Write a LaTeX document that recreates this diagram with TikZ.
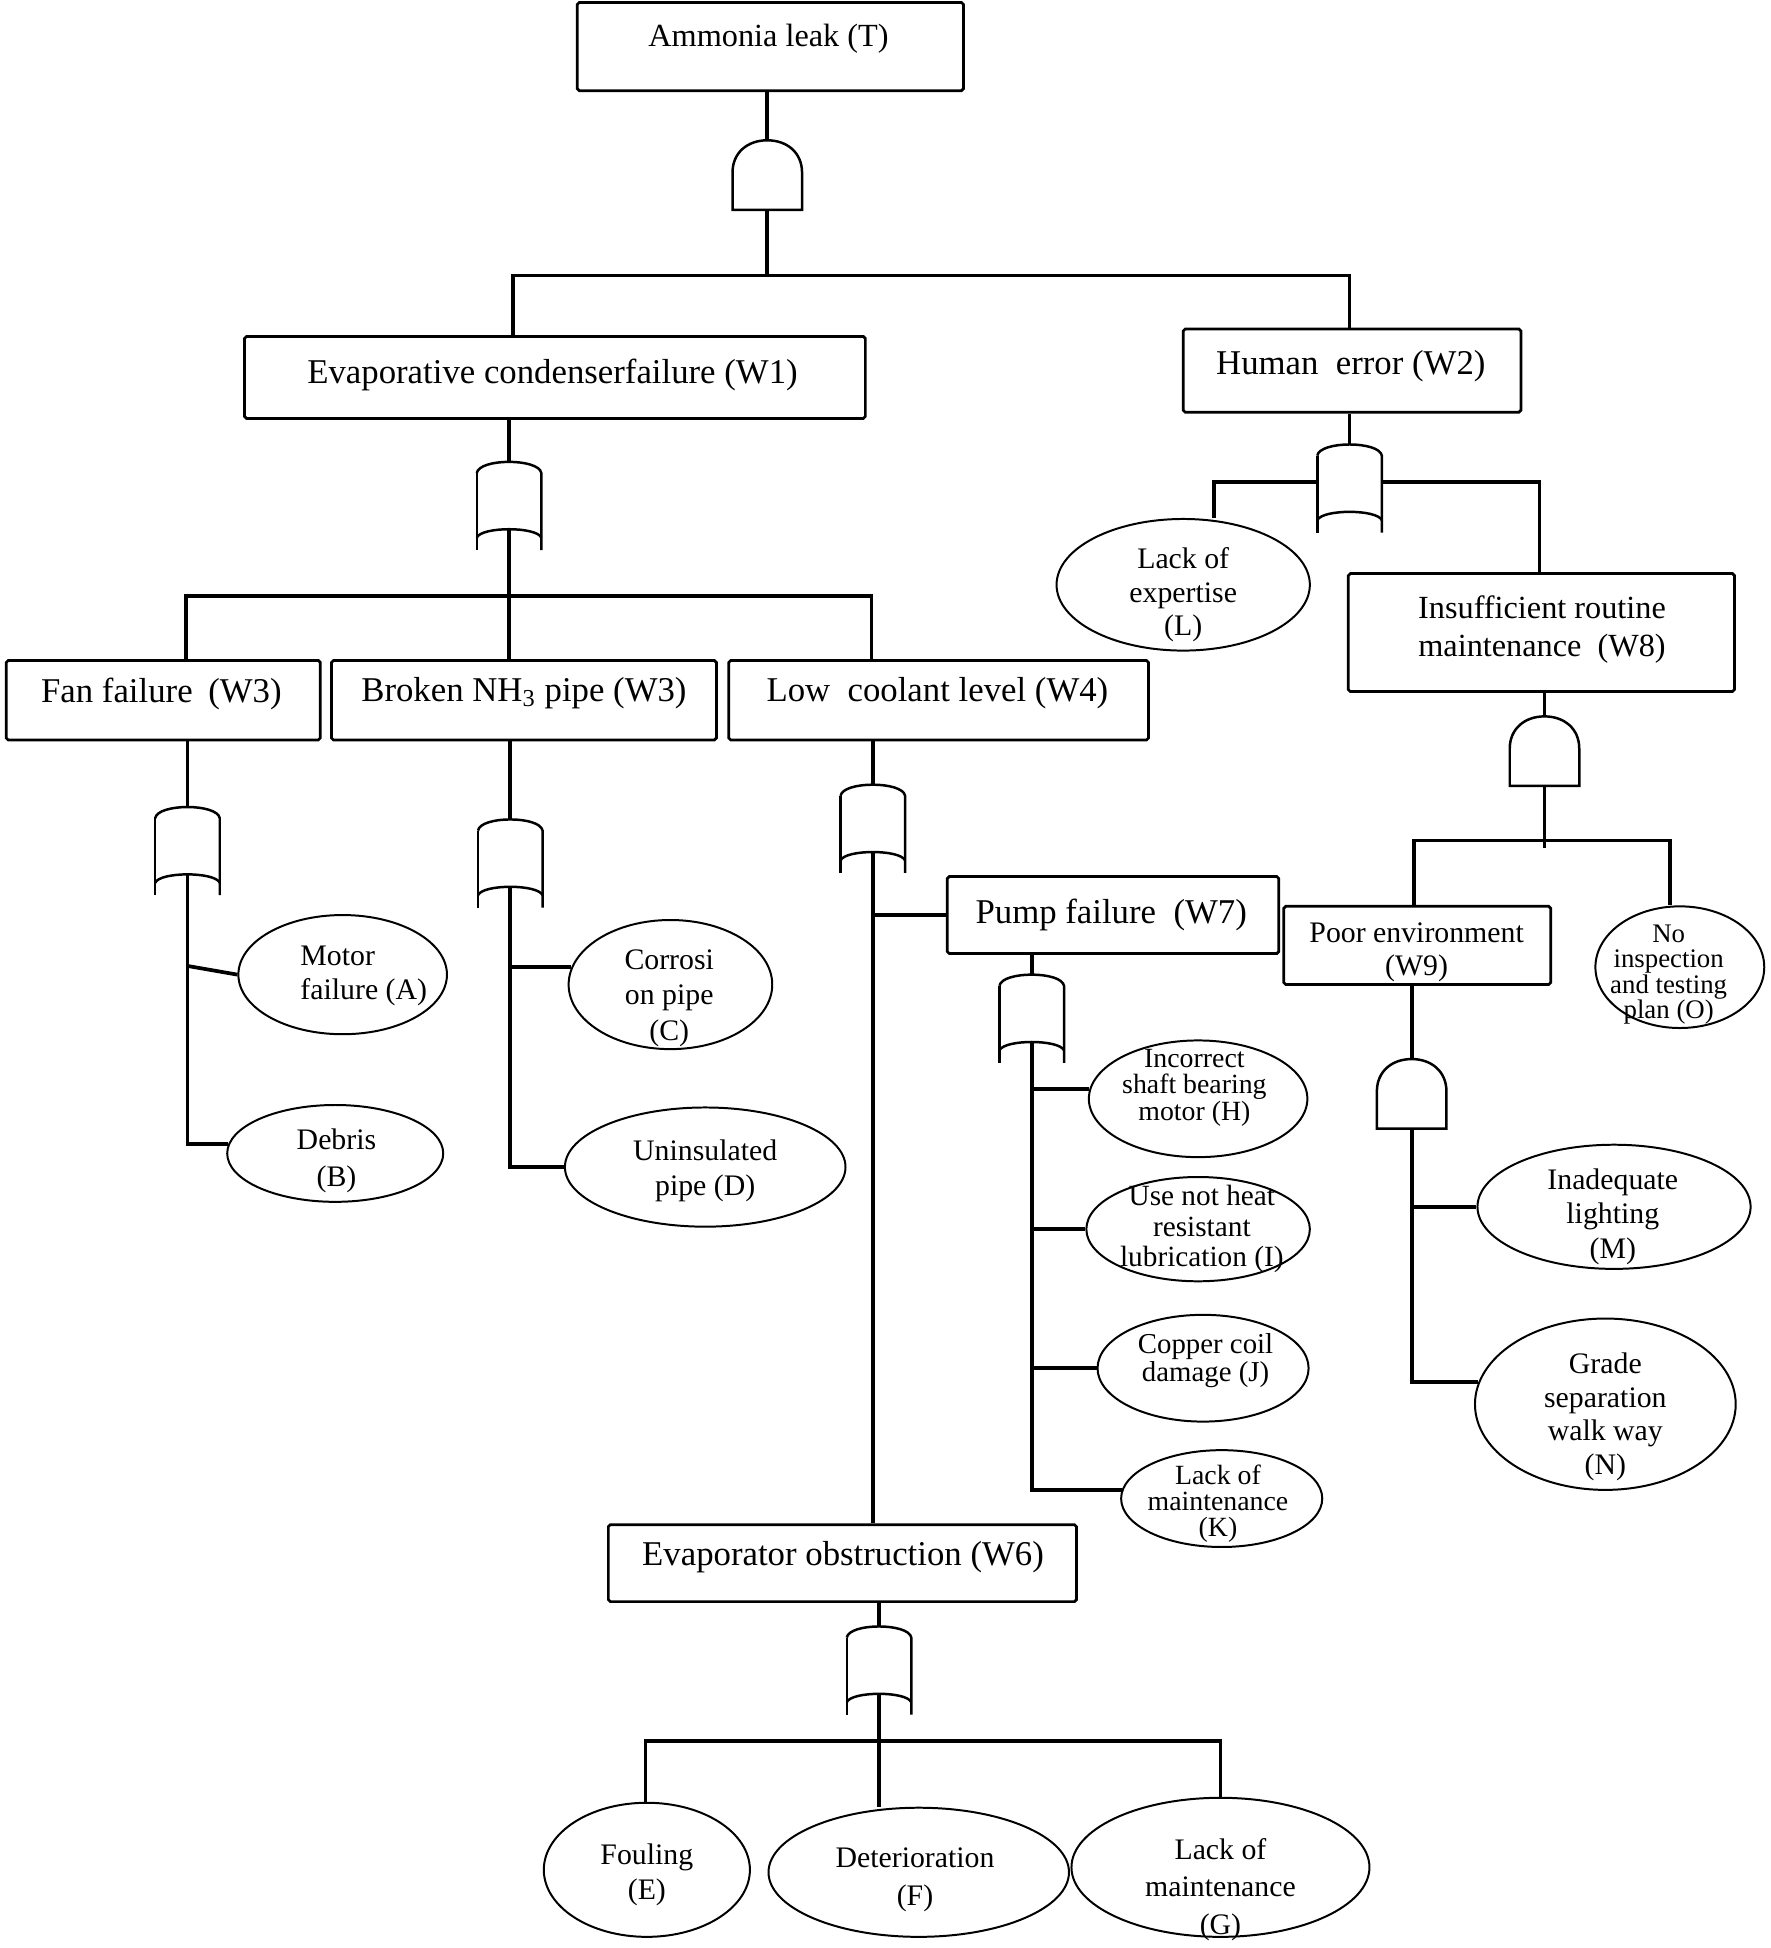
\documentclass[tikz,border=0pt]{standalone}
\usepackage{fontspec}
\setmainfont{Liberation Serif}
\usetikzlibrary{shapes.geometric}
\tikzset{
  orgate/.pic={
    \draw[gateline] (-26,9) .. controls (-24,-3) and (24,-3) .. (26,9) -- (26,71);
    \draw[gateline] (-26,9) -- (-26,71);
    \draw[gateline] (-26,61) .. controls (-22,52) and (22,52) .. (26,61);
  },
  andgate/.pic={
    \draw[gateline] (-28,56) -- (-28,26) .. controls (-28,10) and (-16,0) .. (0,0)
      .. controls (16,0) and (28,10) .. (28,26) -- (28,56) -- cycle;
  },
}
\begin{document}
\begin{tikzpicture}[x=0.5pt,y=-0.5pt,
  box/.style={draw, line width=1.1pt, rounded corners=0.8pt, inner sep=0pt},
  ev/.style={draw, ellipse, line width=0.8pt, inner sep=0pt},
  bt/.style={inner sep=0pt, align=center, font=\fontsize{14}{16}\selectfont},
  et/.style={inner sep=0pt, align=center},
  conn/.style={line width=1.5pt},
  gateline/.style={line width=1pt}]
\fill[white] (0,0) rectangle (1426,1569);
\useasboundingbox (0,0) rectangle (1426,1569);

% ---- boxes ----
\node[box, minimum width=155.5pt, minimum height=35.5pt] (T) at (620.5,37.5) {};
\node[box, minimum width=250pt, minimum height=33pt] (W1) at (447,304) {};
\node[box, minimum width=136pt, minimum height=33.5pt] (W2) at (1089,298.5) {};
\node[box, minimum width=126.5pt, minimum height=32pt] (Fan) at (131.5,564) {};
\node[box, minimum width=155pt, minimum height=32pt] (Broken) at (422,564) {};
\node[box, minimum width=169pt, minimum height=32pt] (Low) at (756,564) {};
\node[box, minimum width=133.5pt, minimum height=31pt] (Pump) at (896.5,737) {};
\node[box, minimum width=188.5pt, minimum height=31pt] (W6) at (678.5,1259) {};
\node[box, minimum width=155.5pt, minimum height=47.5pt] (W8) at (1241.5,509.5) {};
\node[box, minimum width=107.5pt, minimum height=31.5pt] (W9) at (1141.5,761.5) {};

% ---- box texts ----
\node[bt, font=\fontsize{13}{15}\selectfont] (Tt) at (619,31) {Ammonia leak (T)};
\node[bt] (W1t) at (445,302) {Evaporative condenserfailure (W1)};
\node[bt] (W2t) at (1088,295) {Human\hspace{0.5em}error (W2)};
\node[bt] (Fant) at (130,559) {Fan failure\hspace{0.45em}(W3)};
\node[bt] (Brokent) at (422,558) {Broken NH\textsubscript{3} pipe (W3)};
\node[bt] (Lowt) at (755,558) {Low\hspace{0.5em}coolant level (W4)};
\node[bt] (Pumpt) at (895,737) {Pump failure\hspace{0.5em}(W7)};
\node[bt] (W6t) at (679,1254) {Evaporator obstruction (W6)};
\node[bt, font=\fontsize{13}{15.5}\selectfont] (W8t) at (1242,507) {Insufficient routine\\maintenance\hspace{0.5em}(W8)};
\node[bt, font=\fontsize{12}{13}\selectfont] (W9t) at (1141,767) {Poor environment\\(W9)};

% ---- ellipses ----
\node[ev, minimum width=84pt, minimum height=48pt] (A) at (276,785) {};
\node[ev, minimum width=87pt, minimum height=39pt] (B) at (270,929) {};
\node[ev, minimum width=82pt, minimum height=52pt] (C) at (540,793) {};
\node[ev, minimum width=113pt, minimum height=48pt] (D) at (568,940) {};
\node[ev, minimum width=88pt, minimum height=47pt] (H) at (965,885) {};
\node[ev, minimum width=90pt, minimum height=42pt] (I) at (965,990) {};
\node[ev, minimum width=85pt, minimum height=43pt] (J) at (969,1102) {};
\node[ev, minimum width=81pt, minimum height=39pt] (K) at (984,1207) {};
\node[ev, minimum width=102pt, minimum height=53pt] (L) at (953,471) {};
\node[ev, minimum width=110pt, minimum height=50pt] (M) at (1300,972) {};
\node[ev, minimum width=105pt, minimum height=69pt] (N) at (1293,1131) {};
\node[ev, minimum width=68pt, minimum height=49pt] (O) at (1353,779) {};
\node[ev, minimum width=83pt, minimum height=54pt] (E) at (521,1506) {};
\node[ev, minimum width=121pt, minimum height=52pt] (F) at (740,1508) {};
\node[ev, minimum width=120pt, minimum height=56pt] (G) at (983,1504) {};

% ---- ellipse texts ----
\node[et, align=left, font=\fontsize{12}{14}\selectfont] (At) at (293,786) {Motor\\failure (A)};
\node[et, font=\fontsize{12}{15}\selectfont] (Bt) at (271,935) {Debris\\(B)};
\node[et, font=\fontsize{12}{14.3}\selectfont] (Ct) at (539,804) {Corrosi\\on pipe\\(C)};
\node[et, font=\fontsize{12}{14}\selectfont] (Dt) at (568,943) {Uninsulated\\pipe (D)};
\node[et, font=\fontsize{11.2}{10.6}\selectfont] (Ht) at (962,876) {Incorrect\\shaft bearing\\motor (H)};
\node[et, font=\fontsize{11.8}{12.2}\selectfont] (It) at (968,990) {Use not heat\\resistant\\lubrication (I)};
\node[et, font=\fontsize{11.6}{11.2}\selectfont] (Jt) at (971,1096) {Copper coil\\damage (J)};
\node[et, font=\fontsize{11.2}{10.6}\selectfont] (Kt) at (981,1211) {Lack of\\maintenance\\(K)};
\node[et, font=\fontsize{12}{13.5}\selectfont] (Lt) at (953,479) {Lack of\\expertise\\(L)};
\node[et, font=\fontsize{12}{14}\selectfont] (Mt) at (1299,980) {Inadequate\\lighting\\(M)};
\node[et, font=\fontsize{12}{13.5}\selectfont] (Nt) at (1293,1141) {Grade\\separation\\walk way\\(N)};
\node[et, font=\fontsize{10.8}{10.2}\selectfont] (Ot) at (1344,785) {No\\inspection\\and testing\\plan (O)};
\node[et, font=\fontsize{12}{14}\selectfont] (Et) at (521,1510) {Fouling\\(E)};
\node[et, font=\fontsize{12}{15}\selectfont] (Ft) at (737,1514) {Deterioration\\(F)};
\node[et, font=\fontsize{12}{15}\selectfont] (Gt) at (983,1522) {Lack of\\maintenance\\(G)};

% ---- top AND gate ----
\coordinate (g0t) at (618,113); \coordinate (g0b) at (618,169);
\pic at (g0t) {andgate};
\draw[conn] (T.south -| g0t) -- (g0t);
\coordinate (j0) at (618,222); \coordinate (j0l) at (413,222); \coordinate (j0r) at (1087,222);
\draw[conn] (g0b) -- (j0);
\draw[conn] (W1.north -| j0l) -- (j0l) -- (j0r) -- (W2.north -| j0r);

% ---- W1 OR gate ----
\coordinate (g1t) at (410,372); \coordinate (g1p) at (410,426);
\pic at (g1t) {orgate};
\draw[conn] (W1.south -| g1t) -- (g1t);
\coordinate (j1) at (410,480); \coordinate (j1l) at (150,480); \coordinate (j1r) at (702,480);
\draw[conn] (g1p) -- (j1);
\draw[conn] (Fan.north -| j1l) -- (j1l) -- (j1r) -- (Low.north -| j1r);
\draw[conn] (j1) -- (Broken.north -| j1);

% ---- Fan OR gate ----
\coordinate (g2t) at (151,650); \coordinate (g2p) at (151,704);
\pic at (g2t) {orgate};
\draw[conn] (Fan.south -| g2t) -- (g2t);
\draw[conn] (g2p) -- (g2p |- B.175) -- (B.175);
\coordinate (a1) at (151,778);
\draw[conn] (a1) -- (A.west);

% ---- Broken OR gate ----
\coordinate (g3t) at (411,660); \coordinate (g3p) at (411,714);
\pic at (g3t) {orgate};
\draw[conn] (Broken.south -| g3t) -- (g3t);
\draw[conn] (g3p) -- (g3p |- D.west) -- (D.west);
\draw[conn] (g3p |- C.170) -- (C.170);

% ---- Low coolant OR gate ----
\coordinate (g4t) at (703,632); \coordinate (g4p) at (703,686);
\pic at (g4t) {orgate};
\draw[conn] (Low.south -| g4t) -- (g4t);
\draw[conn] (g4p) -- (W6.north -| g4p);
\draw[conn] (g4p |- Pump.west) -- (Pump.west);

% ---- Pump OR gate ----
\coordinate (g5t) at (831,785); \coordinate (g5p) at (831,839);
\pic at (g5t) {orgate};
\draw[conn] (Pump.south -| g5t) -- (g5t);
\draw[conn] (g5p) -- (g5p |- K.175) -- (K.175);
\draw[conn] (g5p |- H.175) -- (H.175);
\draw[conn] (g5p |- I.west) -- (I.west);
\draw[conn] (g5p |- J.west) -- (J.west);

% ---- W6 OR gate ----
\coordinate (g6t) at (708,1310); \coordinate (g6p) at (708,1364);
\pic at (g6t) {orgate};
\draw[conn] (W6.south -| g6t) -- (g6t);
\coordinate (j6) at (708,1402); \coordinate (j6l) at (520,1402); \coordinate (j6r) at (983,1402);
\draw[conn] (g6p) -- (j6);
\draw[conn] (E.north -| j6l) -- (j6l) -- (j6r) -- (G.north -| j6r);
\draw[conn] (j6) -- (F.north -| j6);

% ---- W2 OR gate ----
\coordinate (g7t) at (1087,358);
\pic at (g7t) {orgate};
\draw[conn] (W2.south -| g7t) -- (g7t);
\coordinate (g7l) at (1061,388); \coordinate (g7r) at (1113,388);
\coordinate (j7l) at (978,388); \coordinate (j7r) at (1240,388);
\draw[conn] (g7l) -- (j7l) -- (L.north -| j7l);
\draw[conn] (g7r) -- (j7r) -- (W8.north -| j7r);

% ---- W8 AND gate ----
\coordinate (g8t) at (1244,577); \coordinate (g8b) at (1244,633);
\pic at (g8t) {andgate};
\draw[conn] (W8.south -| g8t) -- (g8t);
\coordinate (j8) at (1244,683);
\draw[conn] (g8b) -- (j8);
\coordinate (j8l) at (1139,677); \coordinate (j8r) at (1345,677);
\draw[conn] (W9.north -| j8l) -- (j8l) -- (j8r) -- (O.north -| j8r);

% ---- W9 AND gate ----
\coordinate (g9t) at (1137,853); \coordinate (g9b) at (1137,909);
\pic at (g9t) {andgate};
\draw[conn] (W9.south -| g9t) -- (g9t);
\draw[conn] (g9b) -- (g9b |- N.170) -- (N.170);
\draw[conn] (g9b |- M.west) -- (M.west);
\end{tikzpicture}
\end{document}
